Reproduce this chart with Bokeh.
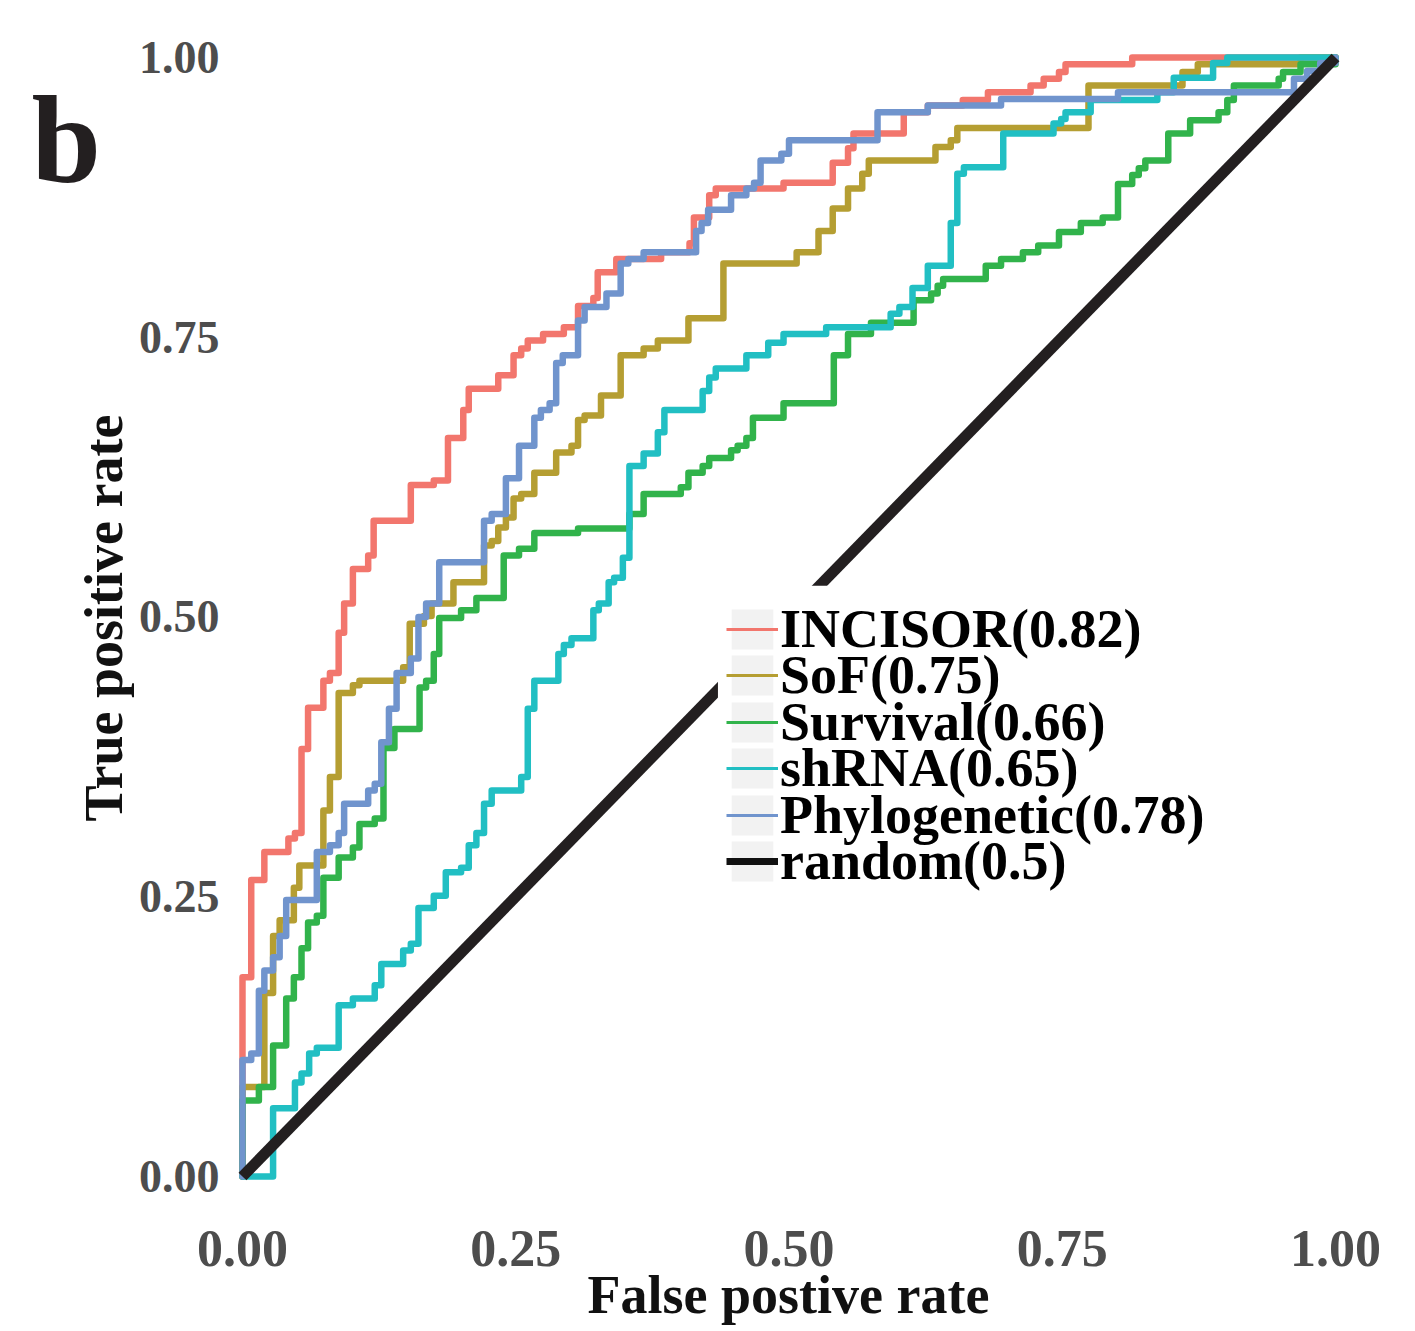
from bokeh.plotting import figure
from bokeh.models import Range1d, FixedTicker, Legend, LegendItem, BoxAnnotation, Label
from bokeh.embed import file_html
from bokeh.resources import INLINE

# ---------------- data ----------------
series_names = ["INCISOR(0.82)", "SoF(0.75)", "Survival(0.66)", "shRNA(0.65)", "Phylogenetic(0.78)"]
series_colors = ["#F2766D", "#B59E32", "#31B34B", "#21BFC3", "#7094CD"]

incisor_fpr = [0, 0, 0.008, 0.020, 0.042, 0.048, 0.054, 0.060, 0.074, 0.080,
               0.088, 0.093, 0.101, 0.115, 0.120, 0.154, 0.175, 0.188, 0.202, 0.207,
               0.234, 0.248, 0.255, 0.261, 0.275, 0.294, 0.307, 0.321, 0.325, 0.342,
               0.383, 0.409, 0.413, 0.427, 0.433, 0.495, 0.540, 0.554, 0.559, 0.605,
               0.627, 0.659, 0.682, 0.721, 0.733, 0.747, 0.753, 0.814, 1.0]
incisor_tpr = [0, 0.178, 0.265, 0.290, 0.302, 0.307, 0.382, 0.419, 0.443, 0.450,
               0.486, 0.512, 0.543, 0.555, 0.586, 0.618, 0.622, 0.660, 0.685, 0.704,
               0.716, 0.734, 0.740, 0.747, 0.753, 0.759, 0.778, 0.785, 0.808, 0.820,
               0.826, 0.834, 0.857, 0.877, 0.883, 0.888, 0.906, 0.919, 0.932, 0.951,
               0.957, 0.962, 0.969, 0.975, 0.981, 0.987, 0.994, 1.0, 1.0]

sof_fpr = [0, 0, 0.020, 0.028, 0.034, 0.047, 0.052, 0.074, 0.080, 0.088, 0.101,
           0.107, 0.147, 0.153, 0.166, 0.173, 0.193, 0.221, 0.228, 0.234, 0.241,
           0.248, 0.255, 0.267, 0.287, 0.301, 0.307, 0.313, 0.328, 0.346, 0.367,
           0.380, 0.408, 0.440, 0.507, 0.527, 0.540, 0.554, 0.567, 0.573, 0.634,
           0.648, 0.654, 0.774, 0.860, 0.874, 0.968, 1.0]
sof_tpr = [0, 0.080, 0.164, 0.215, 0.229, 0.258, 0.278, 0.327, 0.357, 0.432, 0.439,
           0.443, 0.455, 0.494, 0.501, 0.512, 0.531, 0.564, 0.568, 0.580, 0.589,
           0.606, 0.610, 0.629, 0.647, 0.653, 0.676, 0.680, 0.698, 0.734, 0.740,
           0.747, 0.767, 0.816, 0.826, 0.845, 0.865, 0.883, 0.896, 0.908, 0.920,
           0.926, 0.937, 0.975, 0.987, 0.994, 1.0, 1.0]

survival_fpr = [0, 0, 0.015, 0.028, 0.040, 0.047, 0.054, 0.060, 0.068, 0.074, 0.088,
                0.101, 0.107, 0.121, 0.129, 0.139, 0.162, 0.168, 0.175, 0.180, 0.200,
                0.214, 0.239, 0.253, 0.267, 0.307, 0.354, 0.367, 0.401, 0.408, 0.421,
                0.427, 0.447, 0.453, 0.461, 0.467, 0.495, 0.541, 0.554, 0.575, 0.614,
                0.630, 0.636, 0.641, 0.680, 0.694, 0.714, 0.728, 0.747, 0.767, 0.787,
                0.801, 0.814, 0.820, 0.826, 0.847, 0.867, 0.893, 0.901, 0.907, 0.948,
                0.952, 0.968, 1.0]
survival_tpr = [0, 0.068, 0.080, 0.117, 0.159, 0.178, 0.204, 0.227, 0.233, 0.267, 0.285,
                0.294, 0.315, 0.320, 0.383, 0.400, 0.437, 0.443, 0.467, 0.499, 0.506,
                0.517, 0.555, 0.561, 0.575, 0.579, 0.592, 0.610, 0.616, 0.629, 0.635,
                0.642, 0.649, 0.653, 0.660, 0.678, 0.691, 0.734, 0.753, 0.763, 0.783,
                0.789, 0.796, 0.802, 0.814, 0.820, 0.826, 0.832, 0.844, 0.852, 0.857,
                0.887, 0.895, 0.901, 0.908, 0.932, 0.944, 0.951, 0.962, 0.975, 0.981,
                0.987, 0.994, 1.0]

shrna_fpr = [0, 0.028, 0.048, 0.054, 0.061, 0.068, 0.088, 0.101, 0.121, 0.127, 0.147,
             0.154, 0.161, 0.175, 0.186, 0.200, 0.207, 0.214, 0.221, 0.228, 0.255,
             0.261, 0.267, 0.289, 0.294, 0.301, 0.321, 0.326, 0.335, 0.340, 0.348,
             0.354, 0.367, 0.380, 0.386, 0.421, 0.427, 0.433, 0.461, 0.481, 0.495,
             0.534, 0.593, 0.601, 0.613, 0.627, 0.648, 0.654, 0.660, 0.696, 0.742,
             0.749, 0.753, 0.776, 0.837, 0.852, 0.888, 0.901, 1.0]
shrna_tpr = [0, 0.061, 0.084, 0.092, 0.110, 0.115, 0.153, 0.159, 0.171, 0.190, 0.202,
             0.208, 0.240, 0.251, 0.272, 0.276, 0.296, 0.307, 0.333, 0.345, 0.357,
             0.418, 0.443, 0.467, 0.475, 0.481, 0.506, 0.512, 0.531, 0.535, 0.553,
             0.635, 0.646, 0.665, 0.685, 0.702, 0.714, 0.722, 0.734, 0.745, 0.753,
             0.759, 0.771, 0.777, 0.794, 0.814, 0.852, 0.896, 0.902, 0.932, 0.941,
             0.945, 0.951, 0.962, 0.969, 0.982, 0.995, 1.0, 1.0]

phylo_fpr = [0, 0, 0.008, 0.015, 0.020, 0.028, 0.034, 0.040, 0.068, 0.080, 0.088,
             0.093, 0.115, 0.121, 0.127, 0.134, 0.141, 0.154, 0.161, 0.168, 0.180,
             0.221, 0.228, 0.241, 0.253, 0.267, 0.273, 0.281, 0.287, 0.293, 0.307,
             0.313, 0.333, 0.346, 0.353, 0.367, 0.415, 0.420, 0.426, 0.447, 0.461,
             0.468, 0.474, 0.493, 0.500, 0.581, 0.627, 0.694, 0.801, 0.962, 0.974,
             0.986, 1.0]
phylo_tpr = [0, 0.104, 0.110, 0.166, 0.184, 0.196, 0.215, 0.247, 0.290, 0.296, 0.307,
             0.333, 0.345, 0.351, 0.388, 0.418, 0.450, 0.463, 0.500, 0.512, 0.549,
             0.586, 0.592, 0.624, 0.653, 0.678, 0.685, 0.691, 0.727, 0.734, 0.765,
             0.777, 0.789, 0.816, 0.820, 0.826, 0.845, 0.852, 0.864, 0.877, 0.883,
             0.888, 0.908, 0.914, 0.926, 0.951, 0.957, 0.963, 0.969, 0.981, 0.988,
             0.995, 1.0]

random_name = "random(0.5)"
random_fpr = [0, 1]
random_tpr = [0, 1]

tick_values = [0, 0.25, 0.5, 0.75, 1.0]
tick_labels = ["0.00", "0.25", "0.50", "0.75", "1.00"]
panel_letter = "b"

all_fpr = [incisor_fpr, sof_fpr, survival_fpr, shrna_fpr, phylo_fpr]
all_tpr = [incisor_tpr, sof_tpr, survival_tpr, shrna_tpr, phylo_tpr]

# ---------------- figure ----------------
SERIF = "Liberation Serif"
NAN = float("nan")

p = figure(width=1415, height=1331,
           x_range=Range1d(-0.01005, 1.00914), y_range=Range1d(-0.01698, 1.01519),
           output_backend="svg", toolbar_location=None,
           min_border_left=230, min_border_right=70,
           min_border_top=40, min_border_bottom=136)
p.outline_line_color = None
p.xgrid.visible = False
p.ygrid.visible = False
p.background_fill_color = "white"
p.border_fill_color = "white"

for fx, ty, col in zip(all_fpr, all_tpr, series_colors):
    p.step(fx, ty, mode="after", line_width=6.5, line_color=col,
           line_join="round", line_cap="round")

p.line(random_fpr, random_tpr, line_width=11, line_color="#231F20")

# axes
for ax in (p.xaxis[0], p.yaxis[0]):
    ax.ticker = FixedTicker(ticks=tick_values)
    ax.major_label_overrides = {v: s for v, s in zip(tick_values, tick_labels)}
    ax.axis_line_color = None
    ax.major_tick_line_color = None
    ax.minor_tick_line_color = None
    ax.major_tick_out = 0
    ax.major_tick_in = 0
    ax.major_label_text_font = SERIF
    ax.major_label_text_font_style = "bold"
    ax.major_label_text_color = "#4D4D4D"
    ax.axis_label_text_font = SERIF
    ax.axis_label_text_font_style = "bold"
    ax.axis_label_text_color = "#111111"
    ax.axis_label_text_font_size = "54px"

p.xaxis.axis_label = "False postive rate"
p.yaxis.axis_label = "True positive rate"
p.xaxis.major_label_text_font_size = "52px"
p.yaxis.major_label_text_font_size = "46px"
p.xaxis.major_label_standoff = 35
p.xaxis.axis_label_standoff = -4
p.yaxis.major_label_standoff = 12
p.yaxis.axis_label_standoff = 2

# legend: white panel (hides the diagonal like the reference), then one tight entry per series
p.add_layout(BoxAnnotation(left=0.435, right=0.92, bottom=0.25, top=0.528,
                           fill_color="white", fill_alpha=1.0,
                           line_color=None, line_alpha=0))

key_box = p.quad(left=[NAN], right=[NAN], top=[NAN], bottom=[NAN],
                 fill_color="#F2F2F2", line_color=None)
key_lines = [p.line(x=[NAN], y=[NAN], line_width=3, line_color=c) for c in series_colors]
key_lines.append(p.line(x=[NAN], y=[NAN], line_width=7, line_color="#111111"))
legend_names = series_names + [random_name]

entry_y = [535, 489, 442, 396, 349, 303]   # screen offsets of each entry (46 px pitch)
for name, kr, ey in zip(legend_names, key_lines, entry_y):
    lg = Legend(items=[LegendItem(label=name, renderers=[key_box, kr])],
                location=(495, ey),
                glyph_width=52, glyph_height=50, label_standoff=2,
                padding=0, margin=0, spacing=0,
                label_text_font=SERIF, label_text_font_style="bold",
                label_text_font_size="54px", label_text_color="black",
                background_fill_alpha=0.0, border_line_color=None)
    p.add_layout(lg)

# panel letter "b" in the top-left margin (placed in the left side panel so it is not clipped)
p.add_layout(Label(x=-0.193, y=0.926, text=panel_letter,
                   text_font=SERIF, text_font_style="bold", text_font_size="125px",
                   text_color="#231F20", text_baseline="alphabetic"), "left")

open("out.html", "w").write(file_html(p, INLINE))
